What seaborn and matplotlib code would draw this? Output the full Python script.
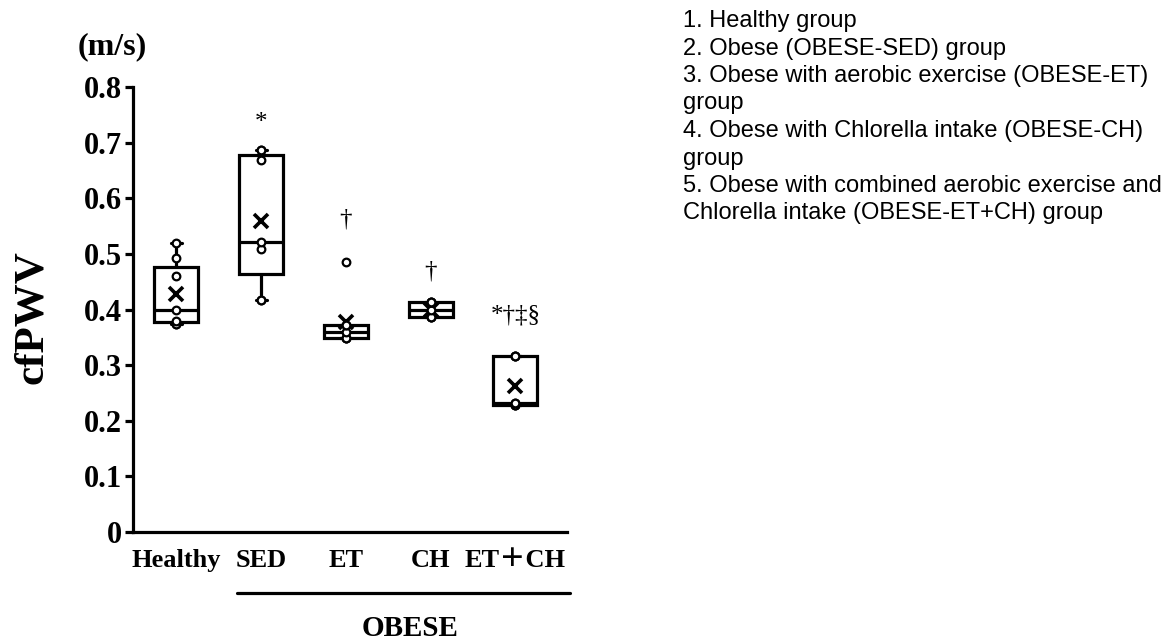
import pandas as pd
import matplotlib
matplotlib.use('Agg')
import matplotlib.pyplot as plt
import seaborn as sns

# group labels on the x axis
groups = ['Healthy', 'SED', 'ET', 'CH', 'ET＋CH']

# cfPWV values (m/s)
healthy = [0.374, 0.374, 0.380, 0.400, 0.460, 0.492, 0.520]
sed = [0.417, 0.417, 0.509, 0.522, 0.669, 0.687, 0.687]
et = [0.349, 0.349, 0.349, 0.360, 0.372, 0.372, 0.486]
ch = [0.387, 0.387, 0.387, 0.400, 0.413, 0.413, 0.413]
et_ch = [0.228, 0.228, 0.228, 0.232, 0.232, 0.317, 0.317, 0.317]

# significance marks above each group
sig_labels = ['', '*', '†', '†', '*†‡§']
sig_y = [0, 0.735, 0.561, 0.468, 0.390]

legend_lines = [
    '1. Healthy group',
    '2. Obese (OBESE-SED) group',
    '3. Obese with aerobic exercise (OBESE-ET)',
    'group',
    '4. Obese with Chlorella intake (OBESE-CH)',
    'group',
    '5. Obese with combined aerobic exercise and',
    'Chlorella intake (OBESE-ET+CH) group',
]

rows = []
for g, vals in zip(groups, [healthy, sed, et, ch, et_ch]):
    for v in vals:
        rows.append({'group': g, 'value': v})
df = pd.DataFrame(rows)

sns.set_style('ticks')
plt.rcParams['font.family'] = ['Liberation Serif', 'Noto Sans CJK JP']
plt.rcParams['font.weight'] = 'bold'
for k in ['text.color', 'axes.labelcolor', 'xtick.color', 'ytick.color',
          'axes.edgecolor']:
    plt.rcParams[k] = 'black'

fig = plt.figure(figsize=(11.69, 6.44), dpi=100)
ax = fig.add_axes([0.1138, 0.1739, 0.3713, 0.6910])

lw = 2.3
box_kw = dict(data=df, x='group', y='value', order=groups, width=0.52,
              color='white', linecolor='black', linewidth=lw, saturation=1,
              showfliers=False, ax=ax)
try:
    sns.boxplot(capwidths=0.13, **box_kw)
except TypeError:
    sns.boxplot(**box_kw)

sns.stripplot(data=df, x='group', y='value', order=groups, jitter=False,
              color='white', edgecolor='black', linewidth=1.6, size=5.5,
              zorder=4, ax=ax)
sns.pointplot(data=df, x='group', y='value', order=groups, estimator='mean',
              errorbar=None, color='black', marker='x', linestyle='none',
              markersize=10, markeredgewidth=2.6, ax=ax)

for i, (lab, yv) in enumerate(zip(sig_labels, sig_y)):
    if lab:
        ax.text(i, yv, lab, ha='center', va='center', fontsize=18,
                fontweight='normal', clip_on=False)

ax.set_xlim(-0.51, 4.61)
ax.set_ylim(0, 0.8)
ax.set_yticks([0, 0.1, 0.2, 0.3, 0.4, 0.5, 0.6, 0.7, 0.8])
ax.set_yticklabels(['0', '0.1', '0.2', '0.3', '0.4', '0.5', '0.6', '0.7', '0.8'])
ax.tick_params(axis='y', labelsize=22, width=lw, length=6, pad=2)
ax.tick_params(axis='x', labelsize=19, length=0, pad=12)
for t in ax.get_xticklabels() + ax.get_yticklabels():
    t.set_fontweight('bold')

sns.despine(ax=ax)
ax.spines['left'].set_linewidth(lw)
ax.spines['bottom'].set_linewidth(lw)

ax.set_xlabel('')
ax.set_ylabel('cfPWV', fontsize=31, fontweight='bold')
ax.yaxis.set_label_coords(-0.19, 0.483)

ax.text(-0.048, 1.09, '(m/s)', transform=ax.transAxes, ha='center',
        va='center', fontsize=23, fontweight='bold')

# bracket under the obese groups
ax.plot([0.24, 1.007], [-0.137, -0.137], color='black', lw=lw,
        transform=ax.transAxes, clip_on=False)
ax.text(0.638, -0.216, 'OBESE', transform=ax.transAxes, ha='center',
        va='center', fontsize=21, fontweight='bold')

for i, line in enumerate(legend_lines):
    fig.text(683 / 1169, 1 - (21 + 27.5 * i) / 644, line, ha='left',
             va='center', fontsize=17, family='Liberation Sans',
             fontweight='normal', color='black')

fig.savefig('out.png', dpi=100)
